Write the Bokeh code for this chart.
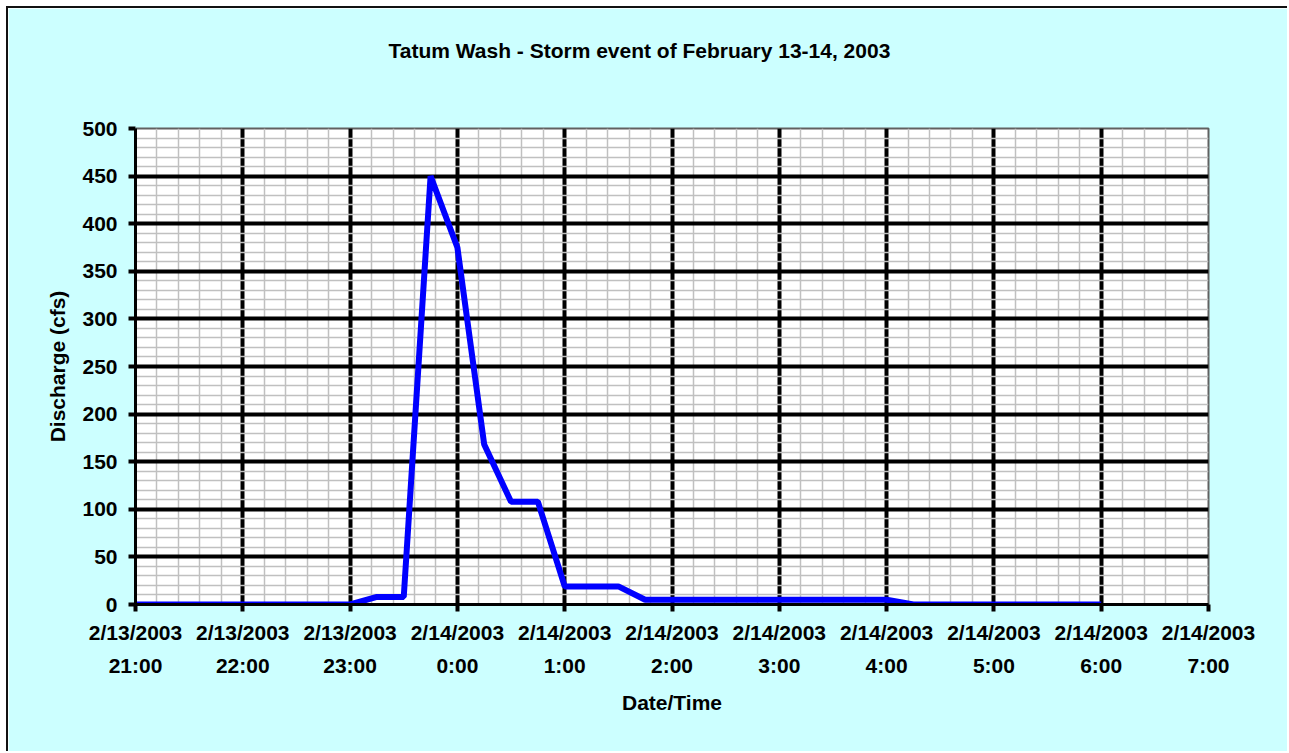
import pandas as pd
from bokeh.plotting import figure
from bokeh.models import FixedTicker, DatetimeAxis, Range1d
from bokeh.embed import file_html
from bokeh.resources import INLINE

# ---- data (15-minute readings) ----
times = [
    "2/13/2003 21:00", "2/13/2003 21:15", "2/13/2003 21:30", "2/13/2003 21:45",
    "2/13/2003 22:00", "2/13/2003 22:15", "2/13/2003 22:30", "2/13/2003 22:45",
    "2/13/2003 23:00", "2/13/2003 23:15", "2/13/2003 23:30", "2/13/2003 23:45",
    "2/14/2003 0:00", "2/14/2003 0:15", "2/14/2003 0:30", "2/14/2003 0:45",
    "2/14/2003 1:00", "2/14/2003 1:15", "2/14/2003 1:30", "2/14/2003 1:45",
    "2/14/2003 2:00", "2/14/2003 2:15", "2/14/2003 2:30", "2/14/2003 2:45",
    "2/14/2003 3:00", "2/14/2003 3:15", "2/14/2003 3:30", "2/14/2003 3:45",
    "2/14/2003 4:00", "2/14/2003 4:15", "2/14/2003 4:30", "2/14/2003 4:45",
    "2/14/2003 5:00", "2/14/2003 5:15", "2/14/2003 5:30", "2/14/2003 5:45",
    "2/14/2003 6:00",
]
discharge = [
    0, 0, 0, 0, 0, 0, 0, 0, 0,
    8, 8, 450, 375, 168, 108, 108, 19, 19, 19,
    5, 5, 5, 5, 5, 5, 5, 5, 5, 5,
    0, 0, 0, 0, 0, 0, 0, 0,
]
tick_dates = ["2/13/2003", "2/13/2003", "2/13/2003", "2/14/2003", "2/14/2003",
              "2/14/2003", "2/14/2003", "2/14/2003", "2/14/2003", "2/14/2003",
              "2/14/2003"]
tick_times = ["21:00", "22:00", "23:00", "0:00", "1:00", "2:00", "3:00",
              "4:00", "5:00", "6:00", "7:00"]
y_ticks = [0, 50, 100, 150, 200, 250, 300, 350, 400, 450, 500]

title_text = "Tatum Wash - Storm event of February 13-14, 2003"
FONT = "Liberation Sans"
FS = "21px"
BG = "#CCFFFF"

# ---- convert ----
fmt = "%m/%d/%Y %H:%M"
x = pd.to_datetime(times, format=fmt)
tick_ts = pd.to_datetime([f"{d} {t}" for d, t in zip(tick_dates, tick_times)], format=fmt)
tick_ms = [float(t.value // 10**6) for t in tick_ts]
minor_ms = []
for a, b in zip(tick_ms[:-1], tick_ms[1:]):
    for k in range(1, 5):
        minor_ms.append(a + (b - a) * k / 5)
y_minor = [v for v in range(y_ticks[0], y_ticks[-1] + 1, 10) if v % 50]

p = figure(width=1281, height=745, x_axis_type="datetime",
           x_range=Range1d(tick_ms[0], tick_ms[-1]),
           y_range=Range1d(y_ticks[0], y_ticks[-1]),
           output_backend="svg", toolbar_location=None,
           min_border_left=127, min_border_right=81,
           min_border_top=120, min_border_bottom=149)

p.border_fill_color = BG
p.background_fill_color = "white"
p.outline_line_color = "#606060"
p.outline_line_width = 2
if "border_line_color" in p.properties():
    p.border_line_color = None
p.styles = {"margin-left": "6px", "margin-top": "6px",
            "border-left": "2px solid #111111", "border-top": "2px solid #111111"}

# title
p.title.text = title_text
p.title.align = "left"
p.title.offset = 253
p.title.text_font = FONT
p.title.text_font_size = FS
p.title.text_font_style = "bold"
p.title.text_color = "black"
p.title.standoff = 10

# grids
p.xgrid.ticker = FixedTicker(ticks=tick_ms[1:-1], minor_ticks=minor_ms)
p.xgrid.grid_line_color = "black"
p.xgrid.grid_line_width = 4
p.xgrid.minor_grid_line_color = "#C0C0C0"
p.xgrid.minor_grid_line_width = 1.5
p.ygrid.ticker = FixedTicker(ticks=y_ticks[1:-1], minor_ticks=y_minor)
p.ygrid.grid_line_color = "black"
p.ygrid.grid_line_width = 4
p.ygrid.minor_grid_line_color = "#C0C0C0"
p.ygrid.minor_grid_line_width = 1.5

# x axis: dates row
xa = p.below[0]
xa.ticker = FixedTicker(ticks=tick_ms)
xa.major_label_overrides = {ms: d for ms, d in zip(tick_ms, tick_dates)}
xa.major_tick_out = 7
xa.major_tick_in = 0
xa.major_tick_line_width = 4
xa.major_tick_line_color = "black"
xa.minor_tick_line_color = None
xa.axis_line_width = 3
xa.axis_line_color = "black"
xa.major_label_standoff = 9
xa.major_label_text_font = FONT
xa.major_label_text_font_size = FS
xa.major_label_text_font_style = "bold"
xa.major_label_text_color = "black"

# x axis: times row + axis title
xa2 = DatetimeAxis(ticker=FixedTicker(ticks=tick_ms))
xa2.major_label_overrides = {ms: t for ms, t in zip(tick_ms, tick_times)}
xa2.axis_line_color = None
xa2.major_tick_line_color = None
xa2.minor_tick_line_color = None
xa2.major_tick_out = 0
xa2.major_tick_in = 0
xa2.minor_tick_out = 0
xa2.major_label_standoff = 7
xa2.major_label_text_font = FONT
xa2.major_label_text_font_size = FS
xa2.major_label_text_font_style = "bold"
xa2.major_label_text_color = "black"
xa2.axis_label = "Date/Time"
xa2.axis_label_standoff = 11
xa2.axis_label_text_font = FONT
xa2.axis_label_text_font_size = FS
xa2.axis_label_text_font_style = "bold"
xa2.axis_label_text_color = "black"
p.add_layout(xa2, "below")

# y axis
ya = p.left[0]
ya.ticker = FixedTicker(ticks=y_ticks)
ya.major_tick_out = 7
ya.major_tick_in = 0
ya.major_tick_line_width = 4
ya.major_tick_line_color = "black"
ya.minor_tick_line_color = None
ya.axis_line_width = 3
ya.axis_line_color = "black"
ya.major_label_standoff = 11
ya.major_label_text_font = FONT
ya.major_label_text_font_size = FS
ya.major_label_text_font_style = "bold"
ya.major_label_text_color = "black"
ya.axis_label = "Discharge (cfs)"
ya.axis_label_standoff = 10
ya.axis_label_text_font = FONT
ya.axis_label_text_font_size = FS
ya.axis_label_text_font_style = "bold"
ya.axis_label_text_color = "black"

# invisible spacer between plot frame and title: one background-coloured tick
spacer = DatetimeAxis(ticker=FixedTicker(ticks=tick_ms[:1]))
spacer.major_label_overrides = {tick_ms[0]: " "}
spacer.axis_line_color = None
spacer.major_tick_line_color = BG
spacer.minor_tick_line_color = None
spacer.major_tick_out = 58
spacer.major_tick_in = 0
spacer.minor_tick_out = 0
spacer.major_label_standoff = 0
spacer.major_label_text_font_size = "1px"
spacer.major_label_text_color = BG
p.add_layout(spacer, "above")

p.line(x, discharge, line_color="#0000FF", line_width=6)

open("out.html", "w").write(file_html(p, INLINE))
